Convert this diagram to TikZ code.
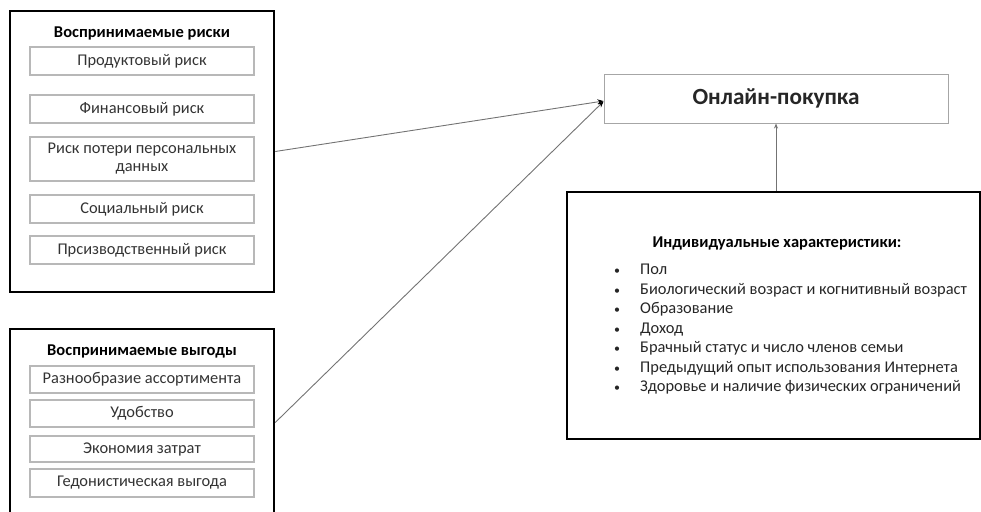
\documentclass[tikz,border=0pt]{standalone}
\usepackage{fontspec}
\setmainfont{Carlito}
\usetikzlibrary{arrows.meta,calc}
\begin{document}
\begin{tikzpicture}[x=1pt,y=-1pt,
  outerbox/.style={draw=black,line width=2.5pt,inner sep=0pt},
  innerbox/.style={draw=black!28,line width=1.1pt,minimum width=224pt,inner sep=0pt,align=center,font=\fontsize{16.4}{18}\selectfont,text=black!80},
  titletext/.style={font=\bfseries\fontsize{16.5}{18}\selectfont},
  resultbox/.style={draw=black!35,line width=1pt,minimum width=344pt,minimum height=49pt,inner sep=0pt,font=\bfseries\fontsize{23.2}{26}\selectfont,text=black!85},
  arr/.style={draw=black!55,line width=0.9pt,-{Stealth[length=6pt,width=5pt,color=black]}}
]
\useasboundingbox (0,0) rectangle (981,511);
% risks
\node[outerbox,minimum width=264pt,minimum height=281pt] (risks) at (142,151.5) {};
\node[titletext] (rtitle) at (142,33) {Воспринимаемые риски};
\node[innerbox,minimum height=28pt] (r1) at (142,61) {Продуктовый риск};
\node[innerbox,minimum height=28pt] (r2) at (142,109) {Финансовый риск};
\node[innerbox,minimum height=44pt] (r3) at (142,159) {Риск потери персональных\\данных};
\node[innerbox,minimum height=28pt] (r4) at (142,209) {Социальный риск};
\node[innerbox,minimum height=28pt] (r5) at (142,250) {Прсизводственный риск};
% benefits
\node[outerbox,minimum width=264pt,minimum height=187pt] (benefits) at (142,422.5) {};
\node[titletext] (btitle) at (142,351) {Воспринимаемые выгоды};
\node[innerbox,minimum height=27pt] (b1) at (142,379.5) {Разнообразие ассортимента};
\node[innerbox,minimum height=27pt] (b2) at (142,413.5) {Удобство};
\node[innerbox,minimum height=26pt] (b3) at (142,449) {Экономия затрат};
\node[innerbox,minimum height=28pt] (b4) at (142,483) {Гедонистическая выгода};
% result
\node[resultbox] (online) at (776,98.5) {Онлайн-покупка};
% individual
\node[outerbox,minimum width=413pt,minimum height=247pt] (indiv) at (773.5,315.5) {};
\node[titletext] (ititle) at (777,243) {Индивидуальные характеристики:};
\node[anchor=north west,inner sep=0pt,align=left,font=\fontsize{16.4}{19.5}\selectfont,text=black!85] (ilist) at (614,264)
{\makebox[26pt][l]{\fontsize{12}{12}\selectfont\textbullet}Пол\\
\makebox[26pt][l]{\fontsize{12}{12}\selectfont\textbullet}Биологический возраст и когнитивный возраст\\
\makebox[26pt][l]{\fontsize{12}{12}\selectfont\textbullet}Образование\\
\makebox[26pt][l]{\fontsize{12}{12}\selectfont\textbullet}Доход\\
\makebox[26pt][l]{\fontsize{12}{12}\selectfont\textbullet}Брачный статус и число членов семьи\\
\makebox[26pt][l]{\fontsize{12}{12}\selectfont\textbullet}Предыдущий опыт использования Интернета\\
\makebox[26pt][l]{\fontsize{12}{12}\selectfont\textbullet}Здоровье и наличие физических ограничений};
% connectors
\draw[arr] (risks.east) -- ($(online.west)+(0,2.5)$);
\draw[arr] (benefits.east) -- ($(online.west)+(0,3)$);
\draw[arr,-{Stealth[length=5pt,width=4pt,color=black!55]}] (indiv.north -| online.south) -- (online.south);
\end{tikzpicture}
\end{document}
